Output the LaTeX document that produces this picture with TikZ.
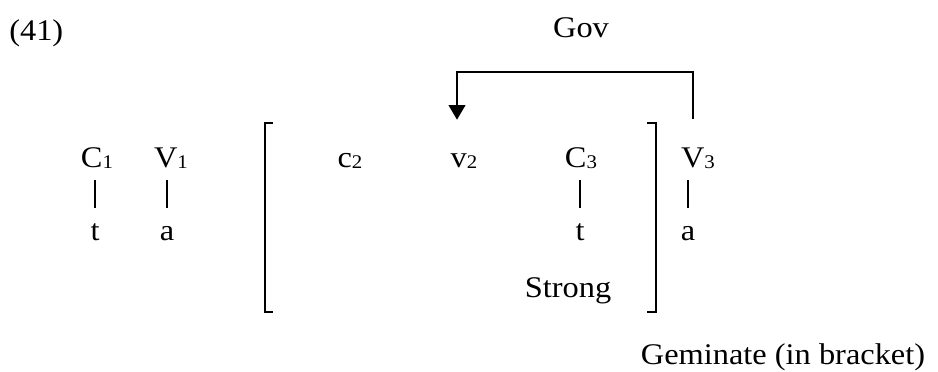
\documentclass[tikz,border=0pt]{standalone}
\usepackage{fontspec}
\setmainfont{Liberation Serif}[FakeStretch=1.08]
\usetikzlibrary{arrows.meta}
\newcommand{\lowsub}[1]{\raisebox{-1pt}{\fontsize{14.5pt}{16pt}\selectfont #1}}

\begin{document}
\begin{tikzpicture}[
    x=0.75pt, y=-0.75pt,
    seg/.style={inner sep=0pt, anchor=base, text height=15pt, text depth=0pt, font=\fontsize{22.5pt}{27pt}\selectfont},
    bar/.style={line width=1.5pt, shorten <=9.75pt, shorten >=9pt},
    brk/.style={line width=1.5pt},
    gov/.style={line width=1.5pt, -{Triangle[width=12.5pt,length=11pt]}}
]
\useasboundingbox (0,0) rectangle (938,371);

\node[seg, anchor=base west] (num) at (9,40) {(41)};
\node[seg] (gov) at (581,37) {Gov};

% skeleton
\node[seg] (C1) at (97,167) {C\lowsub{1}};
\node[seg] (V1) at (171,167) {V\lowsub{1}};
\node[seg] (c2) at (350,167) {c\lowsub{2}};
\node[seg] (v2) at (464,167) {v\lowsub{2}};
\node[seg] (C3) at (581,167) {C\lowsub{3}};
\node[seg] (V3) at (698,167) {V\lowsub{3}};

% melody
\node[seg] (t1) at (95,240) {t};
\node[seg] (a1) at (167,240) {a};
\node[seg] (t3) at (580,240) {t};
\node[seg] (a3) at (688,240) {a};

\foreach \hi/\lo in {C1/t1, V1/a1, C3/t3, V3/a3}
    \draw[bar] (\lo.north |- \hi.south) -- (\lo.north);

\node[seg] (strong) at (568,297) {Strong};
\node[seg] (gem) at (783,364) {Geminate (in bracket)};

% brackets
\draw[brk] (273,123) -- (265,123) -- (265,312) -- (273,312);
\draw[brk] (647,123) -- (656,123) -- (656,312) -- (647,312);

% government
\draw[gov] ([xshift=-3.75pt,yshift=21pt]V3.north) -- ++(0,-47) -| ([xshift=-5.25pt,yshift=20.25pt]v2.north);

\end{tikzpicture}
\end{document}
